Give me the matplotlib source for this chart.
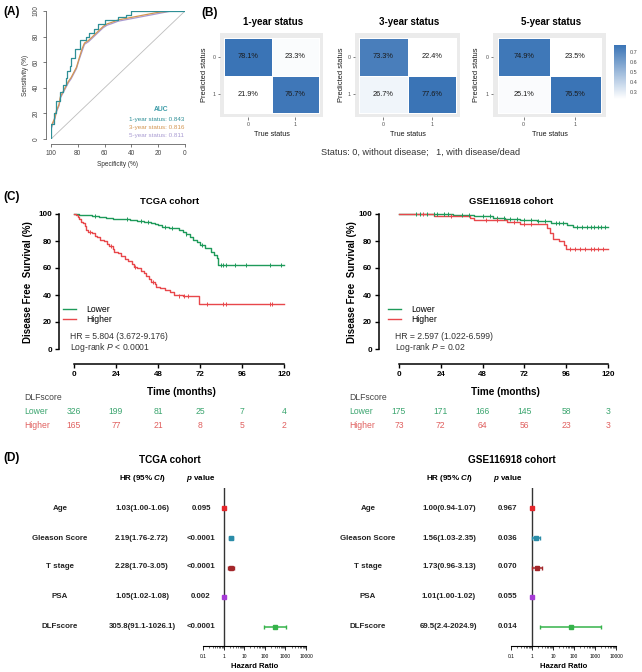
import numpy as np
import matplotlib
matplotlib.use('Agg')
import matplotlib.pyplot as plt
from matplotlib import transforms
from matplotlib.colors import LinearSegmentedColormap, Normalize
from matplotlib.ticker import LogLocator, NullFormatter, FixedLocator

plt.rcParams['font.family'] = ['Liberation Sans', 'DejaVu Sans']
plt.rcParams['mathtext.fontset'] = 'custom'
plt.rcParams['mathtext.rm'] = 'Liberation Sans'
plt.rcParams['mathtext.it'] = 'Liberation Sans:italic'
plt.rcParams['mathtext.bf'] = 'Liberation Sans:bold'
plt.rcParams['mathtext.bfit'] = 'Liberation Sans:bold:italic'

# ---- (A) ROC curves ----
roc_spec_1y = [100, 100, 98, 98, 96, 96, 93, 93, 91, 91, 89, 89, 88, 88, 86, 86, 85, 85, 82, 82,
               78, 78, 74, 74, 72, 72, 68, 68, 65, 65, 60, 60, 50, 50, 44, 44, 40, 40, 0]
roc_sens_1y = [0, 12, 12, 20, 20, 30, 30, 37, 37, 42, 42, 48, 48, 53, 53, 57, 57, 63, 63, 70,
               70, 77, 77, 80, 80, 83, 83, 86, 86, 90, 90, 93, 93, 95, 95, 97, 97, 100, 100]
roc_spec_3y = [100, 100, 99, 97, 96, 94, 93, 91, 89, 87, 85, 83, 81, 79, 77, 75, 72, 70, 67, 64,
               61, 58, 55, 50, 45, 40, 35, 30, 25, 20, 10, 0]
roc_sens_3y = [0, 8, 12, 17, 22, 27, 33, 37, 41, 45, 48, 52, 56, 63, 70, 75, 77, 79, 82, 85,
               88, 90, 91, 93, 94, 95, 96, 97, 98, 99, 100, 100]
roc_spec_5y = [100, 100, 99, 97, 96, 94, 93, 91, 89, 87, 85, 83, 81, 79, 77, 75, 72, 70, 67, 64,
               61, 58, 55, 50, 45, 40, 35, 30, 25, 20, 10, 0]
roc_sens_5y = [0, 7, 11, 16, 21, 26, 32, 36, 40, 44, 47, 51, 55, 62, 68, 74, 76, 78, 81, 84,
               87, 89, 90, 92, 93, 94, 95, 96, 97, 98, 100, 100]
auc_labels = ['1-year status: 0.843', '3-year status: 0.816', '5-year status: 0.811']

# ---- (B) confusion matrices (rows: predicted 0/1, cols: true 0/1) ----
cm_titles = ['1-year status', '3-year status', '5-year status']
cm_1y = [[0.781, 0.233], [0.219, 0.767]]
cm_3y = [[0.733, 0.224], [0.267, 0.776]]
cm_5y = [[0.749, 0.235], [0.251, 0.765]]

# ---- (C) Kaplan-Meier ----
time_ticks = [0, 24, 48, 72, 96, 120]
tcga_lo_t = [0, 3, 6, 10, 14, 18, 22, 26, 32, 36, 40, 44, 46, 48, 50, 54, 58, 60, 62, 64,
             66, 68, 70, 72, 75, 78, 80, 81.5, 82.5, 120]
tcga_lo_s = [100, 99.5, 99, 98.5, 98, 97, 96.5, 96, 95.5, 94.5, 94, 93.5, 92.5, 91.5, 90.5, 90,
             89.5, 88, 86.5, 85, 83, 80.5, 79, 77, 75, 72, 70, 67.5, 62, 62]
tcga_hi_t = [0, 1, 2, 3, 4, 5, 6, 7, 8, 10, 12, 13, 15, 17, 19, 20, 22, 23, 25, 27, 29, 31, 33,
             34, 36, 38, 40, 41, 43, 44, 46, 47, 49, 52, 55, 57, 62, 71.5, 120]
tcga_hi_s = [100, 99, 98, 96, 94, 93, 91, 88, 87, 86, 84, 83, 81, 80, 78, 76, 74, 72, 71, 69,
             67, 65, 63, 61, 60, 58, 56, 54, 52, 50, 48, 46, 45, 44, 42, 40, 39, 33.5, 33.5]
tcga_lo_cens_t = [12, 30, 38, 42, 52, 56, 64, 73, 84, 85, 87, 92, 98, 112, 118]
tcga_lo_cens_s = [98.5, 96, 94.5, 94, 90.5, 90, 85, 77, 62, 62, 62, 62, 62, 62, 62]
tcga_hi_cens_t = [9, 21, 35, 45, 60, 63, 65, 76, 85, 87, 112, 113]
tcga_hi_cens_s = [87, 76, 61, 50, 39, 39, 39, 33.5, 33.5, 33.5, 33.5, 33.5]
tcga_risk_lo = [326, 199, 81, 25, 7, 4]
tcga_risk_hi = [165, 77, 21, 8, 5, 2]

gse_lo_t = [0, 31, 43, 54, 61, 69.6, 79, 87, 96.4, 100, 120]
gse_lo_s = [100, 99.3, 98.3, 97.3, 96.3, 95.3, 94.6, 93.3, 92, 90.4, 90.4]
gse_hi_t = [0, 18, 20, 25.5, 41, 43, 61, 62, 69.6, 85, 86.5, 88.4, 91.6, 95, 96, 120]
gse_hi_s = [100, 100, 98.8, 98.3, 97, 95.3, 95.3, 94, 92.6, 89.6, 86, 81.5, 80, 77.3, 74.3, 74.3]
gse_lo_cens_t = [10, 12, 16, 20, 22, 26, 28, 36, 40, 48, 52, 56, 60, 64, 68, 72, 76, 80, 84,
                 90, 92, 94, 102, 105, 108, 110, 112, 114, 116, 118]
gse_lo_cens_s = [100, 100, 100, 100, 100, 100, 100, 99.3, 99.3, 98.3, 98.3, 97.3, 97.3, 96.3,
                 96.3, 95.3, 95.3, 94.6, 94.6, 93.3, 93.3, 93.3, 90.4, 90.4, 90.4, 90.4, 90.4,
                 90.4, 90.4, 90.4]
gse_hi_cens_t = [14, 30, 50, 56, 66, 72, 76, 98, 101, 104, 107, 110, 112, 114, 117]
gse_hi_cens_s = [100, 98.3, 95.3, 95.3, 94, 92.6, 92.6, 74.3, 74.3, 74.3, 74.3, 74.3, 74.3,
                 74.3, 74.3]
gse_risk_lo = [175, 171, 166, 145, 58, 3]
gse_risk_hi = [73, 72, 64, 56, 23, 3]

# ---- (D) forest plots ----
forest_vars = ['Age', 'Gleason Score', 'T stage', 'PSA', 'DLFscore']
tcga_hr = [1.03, 2.19, 2.28, 1.05, 305.8]
tcga_lo = [1.00, 1.76, 1.70, 1.02, 91.1]
tcga_hi = [1.06, 2.72, 3.05, 1.08, 1026.1]
tcga_hr_txt = ['1.03(1.00-1.06)', '2.19(1.76-2.72)', '2.28(1.70-3.05)', '1.05(1.02-1.08)',
               '305.8(91.1-1026.1)']
tcga_p = ['0.095', '<0.0001', '<0.0001', '0.002', '<0.0001']
gse_hr = [1.00, 1.56, 1.73, 1.01, 69.5]
gse_lo = [0.94, 1.03, 0.96, 1.00, 2.4]
gse_hi = [1.07, 2.35, 3.13, 1.02, 2024.9]
gse_hr_txt = ['1.00(0.94-1.07)', '1.56(1.03-2.35)', '1.73(0.96-3.13)', '1.01(1.00-1.02)',
              '69.5(2.4-2024.9)']
gse_p = ['0.967', '0.036', '0.070', '0.055', '0.014']
forest_colors = ['#E4262B', '#2A8CA8', '#A3262A', '#A63BD6', '#35B34A']

W, H = 642, 672
fig = plt.figure(figsize=(W / 100, H / 100), dpi=100)


def pax(x0, y0, x1, y1):
    return fig.add_axes([x0 / W, 1 - y1 / H, (x1 - x0) / W, (y1 - y0) / H])


def ptext(x, y, s, **kw):
    return fig.text(x / W, 1 - y / H, s, **kw)


# panel letters
for lab, x, y in [('(A)', 3, 12), ('(B)', 201, 13), ('(C)', 3, 197), ('(D)', 3, 458)]:
    ptext(x, y, lab, fontsize=8.5, fontweight='bold', va='center', ha='left')

# ================= (A) =================
ax = pax(51, 11, 185, 139)
ax.plot([100, 0], [0, 100], color='#BDBDBD', lw=0.6)
ax.plot(roc_spec_5y, roc_sens_5y, color='#A99BD2', lw=0.9)
ax.plot(roc_spec_3y, roc_sens_3y, color='#D39652', lw=0.9)
ax.plot(roc_spec_1y, roc_sens_1y, color='#2E8F96', lw=0.9)
ax.set_xlim(100, 0)
ax.set_ylim(0, 100)
for s in ['top', 'right']:
    ax.spines[s].set_visible(False)
for s in ['left', 'bottom']:
    ax.spines[s].set_position(('outward', 3.6))
    ax.spines[s].set_linewidth(0.5)
    ax.spines[s].set_color('#444444')
ax.spines['left'].set_bounds(0, 100)
ax.spines['bottom'].set_bounds(0, 100)
ax.set_xticks([100, 80, 60, 40, 20, 0])
ax.set_yticks([0, 20, 40, 60, 80, 100])
ax.tick_params(labelsize=4.7, length=2.5, width=0.5, pad=2, colors='#444444')
for lbl in ax.get_yticklabels():
    lbl.set_rotation(90)
    lbl.set_va('center')
ax.set_xlabel('Specificity (%)', fontsize=4.7, labelpad=2.5, color='#333333')
ax.set_ylabel('Sensitivity (%)', fontsize=4.7, labelpad=2.5, color='#333333')
ax.text(0.82, 0.227, 'AUC', transform=ax.transAxes, fontsize=4.9, fontweight='bold',
        color='#3C9CA8', ha='center', va='center')
for i, (txt, c) in enumerate(zip(auc_labels, ['#2E8F96', '#D39652', '#A99BD2'])):
    ax.text(0.995, 0.15 - i * 0.063, txt, transform=ax.transAxes, fontsize=4.5, color=c,
            ha='right', va='center')

# ================= (B) =================
cmap = LinearSegmentedColormap.from_list('wb', ['#FFFFFF', '#3A74B6'])
panels = [(220, 323), (355, 460), (493, 606)]
ylab_x = [204, 342, 476]
last_im = None
for k, (mat, cm_title) in enumerate(zip([cm_1y, cm_3y, cm_5y], cm_titles)):
    x0, x1 = panels[k]
    ax = pax(x0, 33, x1, 117)
    ax.set_facecolor('#EBEBEB')
    m = np.array(mat)
    norm = Normalize(m.min(), m.max())
    last_im = ax.pcolormesh([-0.5, 0.5, 1.5], [-0.5, 0.5, 1.5], m, cmap=cmap, norm=norm,
                            edgecolors='white', linewidth=0.6)
    for r in range(2):
        for c in range(2):
            ax.text(c, r, f'{m[r, c] * 100:.1f}%', ha='center', va='center', fontsize=5.3,
                    color='#1A1A1A')
    ax.set_xlim(-0.59, 1.59)
    ax.set_ylim(1.6, -0.63)
    for s in ax.spines.values():
        s.set_visible(False)
    ax.set_xticks([0, 1])
    ax.set_yticks([0, 1])
    ax.set_xticklabels(['0', '1'])
    ax.set_yticklabels(['0', '1'])
    ax.tick_params(labelsize=3.8, length=1.8, width=0.5, pad=1.5, colors='#4D4D4D')
    ax.set_xlabel('True status', fontsize=5.2, labelpad=3, color='#1A1A1A')
    ptext(ylab_x[k], 75, 'Predicted status', fontsize=5.4, rotation=90, ha='center',
          va='center', color='#1A1A1A')
    ptext((x0 + x1) / 2 + 2, 22, cm_title, fontsize=7.0, fontweight='bold', ha='center',
          va='center')

cax = pax(614, 45, 626, 99)
cb = fig.colorbar(last_im, cax=cax, ticks=[0.3, 0.4, 0.5, 0.6, 0.7])
cb.outline.set_visible(False)
cax.tick_params(labelsize=4, length=0, pad=2.5, colors='#4D4D4D')
ptext(421, 152, 'Status: 0, without disease;   1, with disease/dead', fontsize=6.6,
      ha='center', va='center', color='#333333')

# ================= (C) =================
GREEN, RED = '#1E9A5A', '#E8474B'
GREEN_T, RED_T = '#3BA56F', '#E0605F'


def draw_km(box, spine_off, lo_t, lo_s, hi_t, hi_s, lo_ct, lo_cs, hi_ct, hi_cs,
            km_title, title_x, ylab_x, hr_txt, p_txt, risk_lo, risk_hi, row_x):
    ax = pax(*box)
    ax.step(lo_t, lo_s, where='post', color=GREEN, lw=1.0, clip_on=False, label='Lower')
    ax.step(hi_t, hi_s, where='post', color=RED, lw=1.0, clip_on=False, label='Higher')
    ax.plot(lo_ct, lo_cs, ls='none', marker='|', ms=2.6, mew=0.7, color=GREEN, clip_on=False)
    ax.plot(hi_ct, hi_cs, ls='none', marker='|', ms=2.6, mew=0.7, color=RED, clip_on=False)
    ax.set_xlim(0, 120)
    ax.set_ylim(0, 100)
    for s in ['top', 'right']:
        ax.spines[s].set_visible(False)
    ax.spines['left'].set_position(('outward', spine_off))
    ax.spines['bottom'].set_position(('outward', 10.8))
    for s in ['left', 'bottom']:
        ax.spines[s].set_linewidth(1.1)
    ax.set_xticks(time_ticks)
    ax.set_yticks([0, 20, 40, 60, 80, 100])
    ax.tick_params(labelsize=5.8, length=3, width=1.0, pad=2)
    for lbl in ax.get_xticklabels() + ax.get_yticklabels():
        lbl.set_fontweight('bold')
    ax.legend(loc='upper left', bbox_to_anchor=(-0.075, 0.36), frameon=False, fontsize=6.2,
              handlelength=1.6, handletextpad=1.2, labelspacing=0.15, borderpad=0)
    ax.text(-0.02, 0.095, hr_txt, transform=ax.transAxes, fontsize=6.2, va='center', ha='left',
            color='#333333')
    ax.text(-0.02, 0.013, p_txt, transform=ax.transAxes, fontsize=6.2, va='center', ha='left',
            color='#333333')
    ptext(title_x, 202, km_title, fontsize=6.8, fontweight='bold', ha='center', va='center')
    ptext((box[0] + box[2]) / 2 + 2, 392, 'Time (months)', fontsize=7.2, fontweight='bold',
          ha='center', va='center')
    ptext(ylab_x, 282, 'Disease Free  Survival (%)', fontsize=7.0, fontweight='bold',
          rotation=90, ha='center', va='center')
    # numbers at risk
    tr = transforms.blended_transform_factory(ax.transData, fig.transFigure)
    ptext(row_x, 397, 'DLFscore', fontsize=6.2, ha='left', va='center', color='#444444')
    ptext(row_x, 411, 'Lower', fontsize=6.2, ha='left', va='center', color=GREEN_T)
    ptext(row_x, 426, 'Higher', fontsize=6.2, ha='left', va='center', color=RED_T)
    for t, nl, nh in zip(time_ticks, risk_lo, risk_hi):
        ax.text(t, 1 - 411 / H, str(nl), transform=tr, fontsize=6.2, ha='center', va='center',
                color=GREEN_T)
        ax.text(t, 1 - 426 / H, str(nh), transform=tr, fontsize=6.2, ha='center', va='center',
                color=RED_T)


draw_km((74, 214, 284, 349), 10.8, tcga_lo_t, tcga_lo_s, tcga_hi_t, tcga_hi_s,
        tcga_lo_cens_t, tcga_lo_cens_s, tcga_hi_cens_t, tcga_hi_cens_s,
        'TCGA cohort', 170, 28, 'HR = 5.804 (3.672-9.176)', r'Log-rank $\it{P}$ < 0.0001',
        tcga_risk_lo, tcga_risk_hi, 24)
draw_km((399, 214, 608, 349), 14.4, gse_lo_t, gse_lo_s, gse_hi_t, gse_hi_s,
        gse_lo_cens_t, gse_lo_cens_s, gse_hi_cens_t, gse_hi_cens_s,
        'GSE116918 cohort', 511, 352, 'HR = 2.597 (1.022-6.599)', r'Log-rank $\it{P}$ = 0.02',
        gse_risk_lo, gse_risk_hi, 349)

# ================= (D) =================
row_y = [508, 538, 567, 597, 627]


def draw_forest(box, f_title, title_x, lab_x, hr_x, p_x, hr, lo, hi, hr_txt, pv):
    ax = pax(*box)
    top, bot = box[1], box[3]
    step = (row_y[-1] - row_y[0]) / 4
    ax.set_ylim(-(bot - row_y[0]) / step, (row_y[0] - top) / step)
    ax.set_xscale('log')
    ax.set_xlim(0.1, 10000)
    ax.axvline(1, color='#333333', lw=1.0)
    for i in range(len(hr)):
        ax.errorbar(hr[i], -i, xerr=[[hr[i] - lo[i]], [hi[i] - hr[i]]], fmt='s', ms=2.4,
                    color=forest_colors[i], ecolor=forest_colors[i], elinewidth=1.1,
                    capsize=1.6, capthick=1.0, clip_on=False)
    for s in ['top', 'right', 'left']:
        ax.spines[s].set_visible(False)
    ax.spines['bottom'].set_linewidth(0.8)
    ax.set_yticks([])
    ax.xaxis.set_major_locator(FixedLocator([0.1, 1, 10, 100, 1000, 10000]))
    ax.set_xticklabels(['0.1', '1', '10', '100', '1000', '10000'])
    ax.xaxis.set_minor_locator(LogLocator(base=10, subs=np.arange(2, 10)))
    ax.xaxis.set_minor_formatter(NullFormatter())
    ax.tick_params(which='major', labelsize=3.5, length=3, width=0.6, pad=2.5)
    ax.tick_params(which='minor', length=1.6, width=0.4)
    ax.set_xlabel('Hazard Ratio', fontsize=5.6, fontweight='bold', labelpad=3.5)
    ptext(title_x, 460, f_title, fontsize=7.2, fontweight='bold', ha='center', va='center')
    ptext(hr_x, 479, r'HR (95% $\mathbfit{CI}$)', fontsize=5.8, fontweight='bold', ha='center',
          va='center')
    ptext(p_x, 479, r'$\mathbfit{p}$ value', fontsize=5.8, fontweight='bold', ha='center',
          va='center')
    for i, y in enumerate(row_y):
        ptext(lab_x, y, forest_vars[i], fontsize=5.7, fontweight='bold', ha='center',
              va='center', color='#222222')
        ptext(hr_x, y, hr_txt[i], fontsize=5.7, fontweight='bold', ha='center', va='center',
              color='#222222')
        ptext(p_x, y, pv[i], fontsize=5.7, fontweight='bold', ha='center', va='center',
              color='#222222')


draw_forest((203, 488, 306, 646), 'TCGA cohort', 170, 60, 142, 201,
            tcga_hr, tcga_lo, tcga_hi, tcga_hr_txt, tcga_p)
draw_forest((511, 488, 616, 646), 'GSE116918 cohort', 512, 368, 449, 508,
            gse_hr, gse_lo, gse_hi, gse_hr_txt, gse_p)

fig.savefig('out.png', dpi=100)
